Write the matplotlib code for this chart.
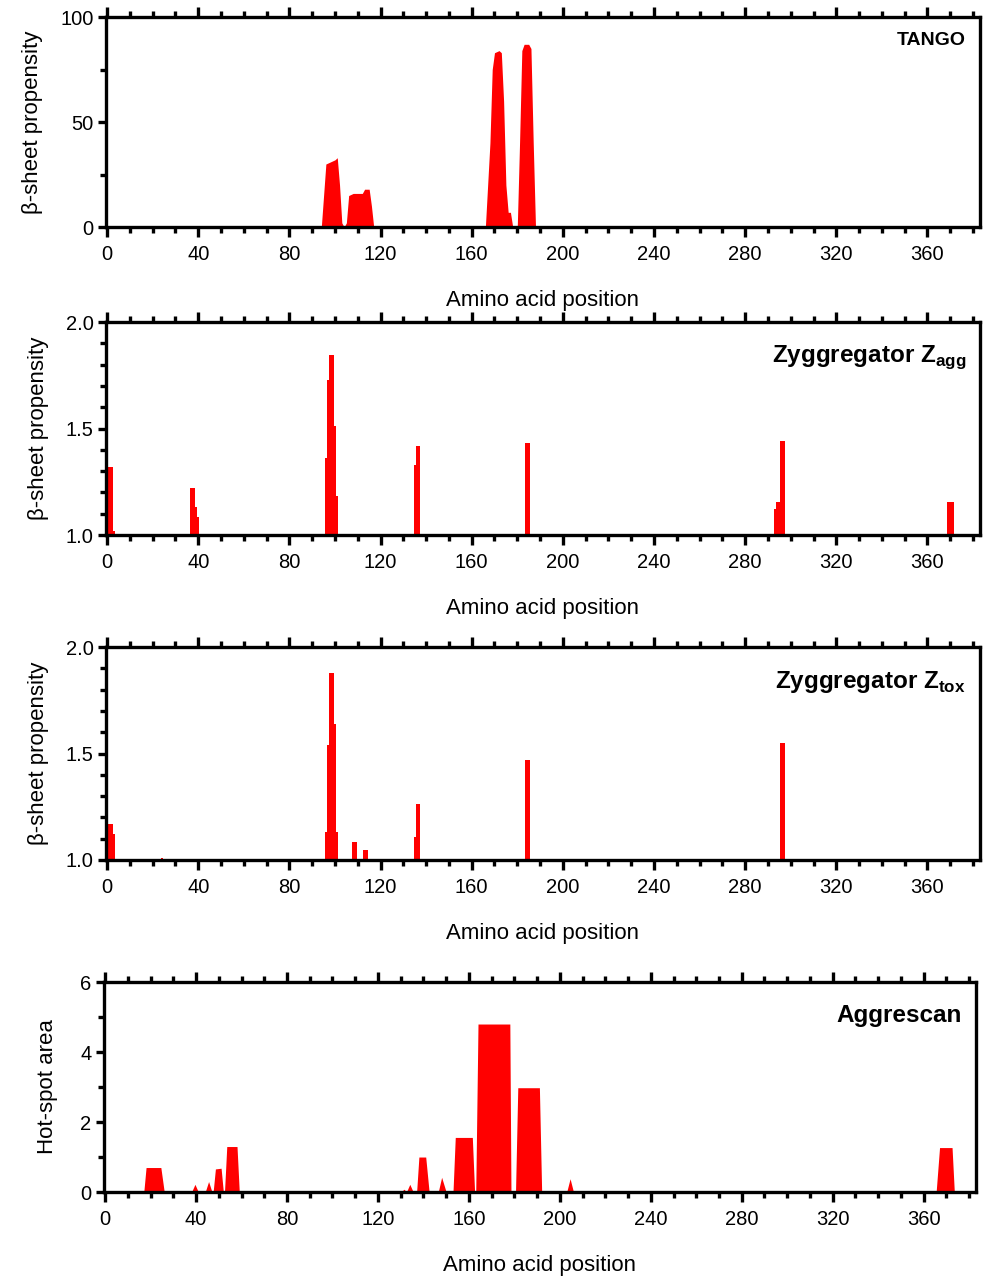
import matplotlib
matplotlib.use("Agg")
import matplotlib.pyplot as plt
from matplotlib.ticker import MultipleLocator

plt.rcParams['font.family'] = ['Liberation Sans', 'DejaVu Sans']
plt.rcParams['mathtext.fontset'] = 'custom'
plt.rcParams['mathtext.rm'] = 'Liberation Sans:bold'

# TANGO (beta-aggregation %), outline points
tango_x = [94, 96, 98, 100, 101, 102, 103, 104, 105, 106, 108, 110, 112, 113, 115, 116, 117,
           166, 168, 169, 170, 172, 173, 174, 175, 176, 177, 178,
           180, 181, 182, 183, 185, 186, 187, 188]
tango_y = [0, 30, 31, 32, 33, 20, 2, 0, 2, 15, 16, 16, 16, 18, 18, 10, 0,
           0, 40, 75, 83, 84, 83, 60, 20, 7, 7, 0,
           0, 40, 84, 87, 87, 85, 40, 0]

# Zyggregator Z_agg per residue
zagg_pos = [1, 2, 3, 37, 38, 39, 40, 96, 97, 98, 99, 100, 101,
            135, 136, 137, 184, 185, 293, 294, 295, 296, 297, 369, 370, 371]
zagg_val = [1.32, 1.32, 1.02, 1.22, 1.22, 1.13, 1.085, 1.36, 1.73, 1.845, 1.845, 1.51, 1.185,
            1.33, 1.42, 1.42, 1.43, 1.43, 1.12, 1.155, 1.155, 1.44, 1.44, 1.155, 1.155, 1.155]

# Zyggregator Z_tox per residue
ztox_pos = [1, 2, 3, 24, 96, 97, 98, 99, 100, 101, 108, 109, 113, 114,
            135, 136, 137, 184, 185, 296, 297]
ztox_val = [1.17, 1.17, 1.12, 1.01, 1.13, 1.54, 1.88, 1.88, 1.64, 1.13, 1.085, 1.085, 1.045, 1.045,
            1.11, 1.265, 1.265, 1.47, 1.47, 1.55, 1.55]

# Aggrescan hot-spot area, outline points
aggr_x = [17, 18, 24.5, 26, 38, 39.5, 41, 44, 45.5, 47, 47.5, 48.5, 51, 52, 52.5, 53.5, 58, 59,
          130, 131.5, 132.5, 134, 135.5, 137, 138, 141, 142.5, 146.5, 148, 150,
          153, 154, 161.5, 162.5, 163, 164, 178, 178.5, 180.5, 181.5, 191, 192,
          203, 204.5, 206, 365.5, 367, 372.5, 373.5]
aggr_y = [0, 0.7, 0.7, 0, 0, 0.22, 0, 0, 0.3, 0, 0, 0.66, 0.68, 0, 0, 1.3, 1.3, 0,
          0, 0.08, 0, 0.22, 0, 0, 1.0, 1.0, 0, 0, 0.42, 0,
          0, 1.56, 1.56, 0, 0, 4.8, 4.8, 0, 0, 2.98, 2.98, 0,
          0, 0.38, 0, 0, 1.27, 1.27, 0]

red = '#ff0000'
fig = plt.figure(figsize=(9.83, 12.79), dpi=100)

boxes = [[0.1078, 0.8225, 0.889, 0.1642],
         [0.1078, 0.5817, 0.889, 0.1665],
         [0.1078, 0.3276, 0.889, 0.1665],
         [0.1058, 0.0680, 0.887, 0.1642]]
axs = [fig.add_axes(b) for b in boxes]

axs[0].fill_between(tango_x, tango_y, 0, color=red, linewidth=0)
axs[1].bar(zagg_pos, [v - 1 for v in zagg_val], bottom=1, width=1.0, color=red, linewidth=0)
axs[2].bar(ztox_pos, [v - 1 for v in ztox_val], bottom=1, width=1.0, color=red, linewidth=0)
axs[3].fill_between(aggr_x, aggr_y, 0, color=red, linewidth=0)

ylims = [(0, 100), (1.0, 2.0), (1.0, 2.0), (0, 6)]
ymaj = [50, 0.5, 0.5, 2]
ymin = [25, 0.1, 0.1, 1]
ylabels = ['β-sheet propensity', 'β-sheet propensity', 'β-sheet propensity', 'Hot-spot area']
titles = ['TANGO', r'Zyggregator Z$_{\mathrm{agg}}$', r'Zyggregator Z$_{\mathrm{tox}}$', 'Aggrescan']
tsize = [14, 17.5, 17.5, 17.5]
ty = [0.89, 0.835, 0.835, 0.84]
yfmt = ['{:.0f}', '{:.1f}', '{:.1f}', '{:.0f}']

for i, ax in enumerate(axs):
    ax.set_xlim(-0.5, 383)
    ax.set_ylim(*ylims[i])
    ax.xaxis.set_major_locator(MultipleLocator(40))
    ax.xaxis.set_minor_locator(MultipleLocator(10))
    ax.yaxis.set_major_locator(MultipleLocator(ymaj[i]))
    ax.yaxis.set_minor_locator(MultipleLocator(ymin[i]))
    ax.yaxis.set_major_formatter(plt.FuncFormatter(lambda v, p, f=yfmt[i]: f.format(v)))
    for s in ax.spines.values():
        s.set_linewidth(2.4)
    ax.tick_params(axis='x', which='both', direction='out', top=True, bottom=True,
                   width=2.4, labelsize=14.5, pad=6)
    ax.tick_params(axis='x', which='major', length=7)
    ax.tick_params(axis='x', which='minor', length=4.5)
    ax.tick_params(axis='y', which='both', direction='out', left=True, right=False,
                   width=2.4, labelsize=14.5, pad=3)
    ax.tick_params(axis='y', which='major', length=6)
    ax.tick_params(axis='y', which='minor', length=4)
    ax.set_xlabel('Amino acid position', fontsize=16, labelpad=19)
    ax.set_ylabel(ylabels[i], fontsize=16, labelpad=12 if i < 3 else 16)
    ax.text(0.984, ty[i], titles[i], transform=ax.transAxes,
            ha='right', va='center', fontsize=tsize[i], fontweight='bold')

fig.savefig('out.png', dpi=100)
